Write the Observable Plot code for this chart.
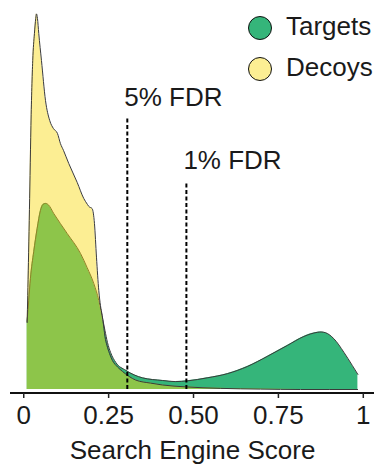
<!DOCTYPE html>
<html>
<head>
<meta charset="utf-8">
<script src="https://cdn.jsdelivr.net/npm/d3@7"></script>
<script src="https://cdn.jsdelivr.net/npm/@observablehq/plot@0.6"></script>
<style>
  html, body { margin: 0; padding: 0; background: #fff; }
  #wrap { position: relative; width: 374px; height: 464px; font-family: "Liberation Sans", Arial, sans-serif; }
  #legend { position: absolute; left: 248px; top: 7px; }
  .item { display: flex; align-items: center; height: 41px; font-size: 26px; color: #1a1a1a; }
  .sw { width: 22px; height: 22px; border-radius: 50%; border: 1.5px solid #111; margin-right: 14px; flex: none; }
  .lab { position: relative; top: -1.5px; }
</style>
</head>
<body>
<div id="wrap"><div id="legend"></div></div>
<script>
// ---- data ----
const targetScore = [0.0100, 0.0147, 0.0197, 0.0295, 0.0395, 0.0492, 0.0566, 0.0640, 0.0728, 0.0884, 0.1279, 0.1671, 0.1868, 0.2062, 0.2210, 0.2275, 0.2328, 0.2392, 0.2466, 0.2560, 0.2711, 0.3005, 0.3497, 0.4087, 0.4470, 0.4823, 0.5404, 0.5993, 0.6582, 0.7171, 0.7761, 0.8250, 0.8645, 0.8756, 0.8889, 0.9134, 0.9428, 0.9676, 0.9841];
const targetDensity = [1.81, 2.37, 2.95, 3.67, 4.28, 4.76, 4.92, 4.95, 4.91, 4.68, 4.15, 3.62, 3.24, 2.82, 2.37, 2.10, 1.86, 1.57, 1.25, 0.98, 0.72, 0.51, 0.31, 0.24, 0.21, 0.23, 0.31, 0.42, 0.61, 0.88, 1.17, 1.41, 1.52, 1.53, 1.51, 1.35, 0.99, 0.64, 0.40];

const decoyScore = [0.0100, 0.0118, 0.0138, 0.0162, 0.0186, 0.0212, 0.0265, 0.0315, 0.0354, 0.0374, 0.0404, 0.0442, 0.0522, 0.0640, 0.0766, 0.0875, 0.0993, 0.1081, 0.1170, 0.1326, 0.1573, 0.1768, 0.1877, 0.1915, 0.2015, 0.2083, 0.2142, 0.2210, 0.2260, 0.2310, 0.2328, 0.2363, 0.2392, 0.2451, 0.2525, 0.2613, 0.2761, 0.2908, 0.3300, 0.3733, 0.4087, 0.4764, 0.5796, 0.6974, 0.8153, 0.9832];
const decoyDensity = [1.78, 2.50, 3.38, 4.49, 5.69, 7.02, 8.75, 9.47, 9.87, 9.99, 9.87, 9.47, 8.75, 7.69, 7.15, 6.94, 6.81, 6.54, 6.36, 6.01, 5.51, 5.08, 4.92, 4.87, 4.81, 4.41, 3.52, 2.63, 2.23, 1.97, 1.86, 1.62, 1.41, 1.17, 0.96, 0.77, 0.60, 0.48, 0.25, 0.17, 0.12, 0.07, 0.03, 0.01, 0.0, 0.0];

const fdrScores = [0.305, 0.479];
const fdrLabels = ["5% FDR", "1% FDR"];
const fdrTop = [7.29, 5.61];

const xTicks = [0, 0.25, 0.5, 0.75, 1];
const xTickLabels = ["0", "0.25", "0.50", "0.75", "1"];
const xTitle = "Search Engine Score";

const legendNames = ["Targets", "Decoys"];
const legendColors = ["#35b57a", "#fcee93"];

// ---- build ----
const targets = targetScore.map((s, i) => ({score: s, density: targetDensity[i]}));
const decoys = decoyScore.map((s, i) => ({score: s, density: decoyDensity[i]}));
const fdr = fdrScores.map((s, i) => ({score: s, top: fdrTop[i], label: fdrLabels[i]}));

const font = "Liberation Sans, Arial, sans-serif";
const chart = Plot.plot({
  width: 374,
  height: 464,
  marginLeft: 10,
  marginRight: 0,
  marginTop: 13,
  marginBottom: 75,
  style: {fontFamily: font, fontSize: "26px", color: "#1a1a1a", background: "transparent"},
  x: {domain: [-0.039, 1.033]},
  y: {domain: [0, 10], axis: null},
  marks: [
    Plot.areaY(targets, {x: "score", y: "density", curve: "monotone-x", fill: "#35b57a"}),
    Plot.lineY(targets, {x: "score", y: "density", curve: "monotone-x", stroke: "#3a3a3a", strokeWidth: 1}),
    Plot.areaY(decoys, {x: "score", y: "density", curve: "monotone-x", fill: "#f8d90f", fillOpacity: 0.45}),
    Plot.lineY(decoys, {x: "score", y: "density", curve: "monotone-x", stroke: "#3a3a3a", strokeWidth: 1}),
    Plot.ruleX(fdr, {x: "score", y1: 0, y2: "top", stroke: "#000", strokeWidth: 2, strokeDasharray: "4,2.5", insetBottom: -3}),
    Plot.text(fdr, {x: "score", y: "top", text: "label", textAnchor: "start", lineAnchor: "bottom", dx: -3, dy: -9.5, fontSize: 26, fill: "#1a1a1a"}),
    Plot.ruleY([0], {dy: 3.5, stroke: "#111", strokeWidth: 2}),
    Plot.axisX(xTicks, {tickFormat: (d, i) => xTickLabels[i], tickSize: 5, tickPadding: 7, dy: 4, fontSize: 26, stroke: "#222", strokeWidth: 1.5, label: null}),
    Plot.text([xTitle], {frameAnchor: "bottom", lineAnchor: "middle", dy: 61, fontSize: 26, fill: "#1a1a1a"})
  ]
});
document.getElementById("wrap").prepend(chart);

const legend = document.getElementById("legend");
legendNames.forEach((n, i) => {
  const row = document.createElement("div");
  row.className = "item";
  const sw = document.createElement("span");
  sw.className = "sw";
  sw.style.background = legendColors[i];
  const lab = document.createElement("span");
  lab.className = "lab";
  lab.textContent = n;
  row.append(sw, lab);
  legend.append(row);
});
</script>
</body>
</html>
